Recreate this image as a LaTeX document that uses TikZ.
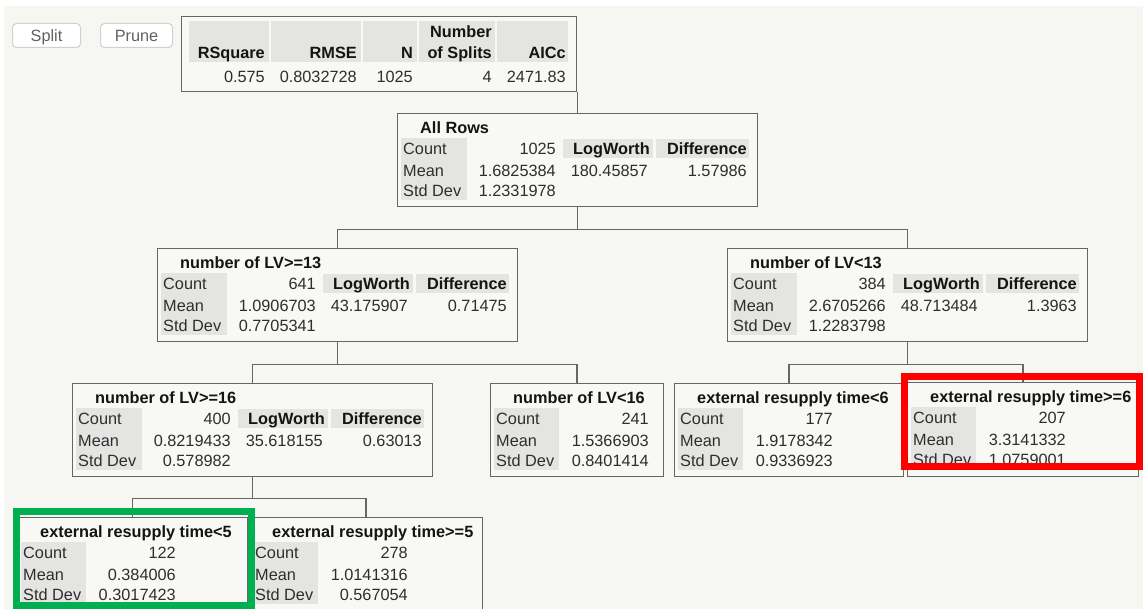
\documentclass[tikz,border=0pt]{standalone}
\usepackage{fontspec}
\setmainfont{Liberation Sans}
\definecolor{bg}{HTML}{F6F6F2}
\definecolor{boxfill}{HTML}{F8F8F5}
\definecolor{cellgray}{HTML}{E4E4E2}
\definecolor{edge}{HTML}{666666}
\definecolor{txt}{HTML}{2E2E2E}
\definecolor{jmpgreen}{HTML}{00B050}
\definecolor{jmpred}{HTML}{FF0000}
\tikzset{
  box/.style={draw=edge, line width=1.4pt, fill=boxfill, inner sep=0pt, rectangle},
  conn/.style={draw=edge, line width=1.5pt},
  tx/.style={font=\fontsize{16.3}{19}\selectfont, text=txt, inner sep=0pt, text height=11.7pt, text depth=0pt},
  bx/.style={tx, font=\fontsize{16.3}{19}\selectfont\bfseries, text=black!92},
  btn/.style={draw=black!18, fill=white, rounded corners=4pt, line width=1pt, inner sep=0pt},
  hilite/.style={line width=7pt},
}
% split node: name, x, y, title, count, mean, sd, logworth, difference
\newcommand{\splitnode}[9]{%
  \node[box, minimum width=360pt, minimum height=93pt, anchor=north west] (#1) at (#2,#3) {};
  \begin{scope}[shift={(#2,#3)}]
    \fill[cellgray] (4,25) rectangle (70,87);
    \fill[cellgray] (166,26) rectangle (256,45);
    \fill[cellgray] (259,26) rectangle (352,45);
    \node[bx, anchor=west] (#1-title) at (23,15) {#4};
    \node[tx, anchor=west] (#1-cl) at (6,36) {Count};
    \node[tx, anchor=west] (#1-ml) at (6,57.5) {Mean};
    \node[tx, anchor=west] (#1-sl) at (6,78) {Std Dev};
    \node[tx, anchor=east] (#1-cv) at (159,36) {#5};
    \node[tx, anchor=east] (#1-mv) at (159,57.5) {#6};
    \node[tx, anchor=east] (#1-sv) at (159,78) {#7};
    \node[bx, anchor=east] (#1-lwh) at (253,36) {LogWorth};
    \node[bx, anchor=east] (#1-dfh) at (350,36) {Difference};
    \node[tx, anchor=east] (#1-lwv) at (251,57.5) {#8};
    \node[tx, anchor=east] (#1-dfv) at (350,57.5) {#9};
  \end{scope}}
% leaf node: name, x, y, width, height, title, count, mean, sd
\newcommand{\leafnode}[9]{%
  \node[box, minimum width=#4pt, minimum height=#5pt, anchor=north west] (#1) at (#2,#3) {};
  \begin{scope}[shift={(#2,#3)}]
    \fill[cellgray] (4,25) rectangle (69,87);
    \node[bx, anchor=west] (#1-title) at (23,15) {#6};
    \node[tx, anchor=west] (#1-cl) at (6,36) {Count};
    \node[tx, anchor=west] (#1-ml) at (6,57.5) {Mean};
    \node[tx, anchor=west] (#1-sl) at (6,78) {Std Dev};
    \node[tx, anchor=east] (#1-cv) at (159,36) {#7};
    \node[tx, anchor=east] (#1-mv) at (159,57.5) {#8};
    \node[tx, anchor=east] (#1-sv) at (159,78) {#9};
  \end{scope}}
\begin{document}
\begin{tikzpicture}[x=1pt,y=-1pt]
\useasboundingbox (0,0) rectangle (1143,609);
\clip (0,0) rectangle (1143,609);
\fill[white] (0,0) rectangle (1143,609);
\fill[bg] (4,6) rectangle (1143,609);

% buttons
\node[btn, minimum width=68pt, minimum height=24pt, anchor=north west] (split) at (12,23) {};
\node[tx, text=black!62] (splitt) at (split.center) {Split};
\node[btn, minimum width=72pt, minimum height=24pt, anchor=north west] (prune) at (100,23) {};
\node[tx, text=black!62] (prunet) at (prune.center) {Prune};

% summary table
\node[box, minimum width=395pt, minimum height=75pt, anchor=north west] (stats) at (181,16) {};
\fill[cellgray] (189,21) rectangle (269,62);
\fill[cellgray] (271,21) rectangle (361,62);
\fill[cellgray] (363,21) rectangle (417,62);
\fill[cellgray] (419,21) rectangle (495,62);
\fill[cellgray] (497,21) rectangle (568,62);
\node[bx, anchor=east] (h1) at (265,53) {RSquare};
\node[bx, anchor=east] (h2) at (357,53) {RMSE};
\node[bx, anchor=east] (h3) at (413,53) {N};
\node[bx, anchor=east] (h4a) at (492,32) {Number};
\node[bx, anchor=east] (h4b) at (492,53) {of Splits};
\node[bx, anchor=east] (h5) at (566,53) {AICc};
\node[tx, anchor=east] (v1) at (265,77) {0.575};
\node[tx, anchor=east] (v2) at (357,77) {0.8032728};
\node[tx, anchor=east] (v3) at (413,77) {1025};
\node[tx, anchor=east] (v4) at (492,77) {4};
\node[tx, anchor=east] (v5) at (566,77) {2471.83};

% tree nodes
\splitnode{allrows}{397}{113}{All Rows}{1025}{1.6825384}{1.2331978}{180.45857}{1.57986}
\splitnode{lvge13}{157}{248}{number of LV>=13}{641}{1.0906703}{0.7705341}{43.175907}{0.71475}
\splitnode{lvlt13}{727}{248}{number of LV<13}{384}{2.6705266}{1.2283798}{48.713484}{1.3963}
\splitnode{lvge16}{72}{383}{number of LV>=16}{400}{0.8219433}{0.578982}{35.618155}{0.63013}
\leafnode{lvlt16}{490}{383}{173}{93}{number of LV<16}{241}{1.5366903}{0.8401414}
\leafnode{rtlt6}{674}{383}{229}{93}{external resupply time<6}{177}{1.9178342}{0.9336923}
\leafnode{rtge6}{907}{382}{231}{94}{external resupply time>=6}{207}{3.3141332}{1.0759001}
\leafnode{rtlt5}{17}{517}{230}{110}{external resupply time<5}{122}{0.384006}{0.3017423}
\leafnode{rtge5}{249}{517}{233}{110}{external resupply time>=5}{278}{1.0141316}{0.567054}

% connectors
\draw[conn] (allrows.north) -- (allrows.north |- stats.south);
\draw[conn] (allrows.south) -- ++(0,22) -| (lvge13.north);
\draw[conn] (allrows.south) -- ++(0,22) -| (lvlt13.north);
\draw[conn] (lvge13.south) -- ++(0,22) -| (lvge16.north);
\draw[conn] (lvge13.south) -- ++(0,22) -| (lvlt16.north);
\draw[conn] (lvlt13.south) -- ++(0,22) -| (rtlt6.north);
\draw[conn] (lvlt13.south) -- ++(0,22) -| (rtge6.north);
\draw[conn] (lvge16.south) -- ++(0,21) -| (rtlt5.north);
\draw[conn] (lvge16.south) -- ++(0,21) -| (rtge5.north);

% highlight frames
\draw[hilite, draw=jmpred] (904.5,376.5) rectangle (1139.5,466.5);
\draw[hilite, draw=jmpgreen] (16.5,511.5) rectangle (251,605.5);
\end{tikzpicture}
\end{document}
